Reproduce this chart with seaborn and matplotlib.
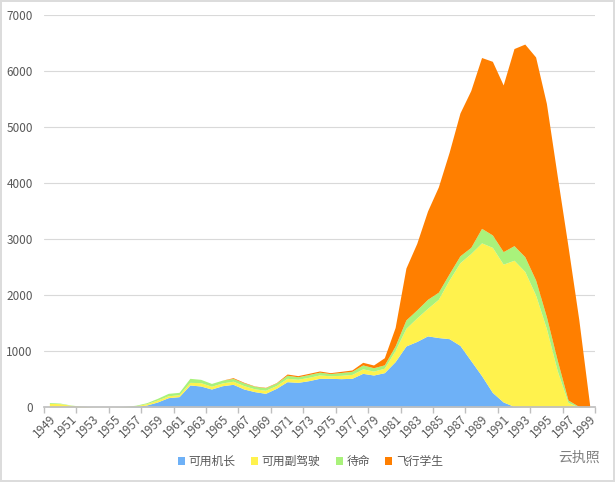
import pandas as pd
import matplotlib.pyplot as plt
import seaborn as sns
from matplotlib.patches import Patch
from matplotlib.ticker import MultipleLocator, FixedLocator

# yearly pilot counts, 1949-1999
years = list(range(1949, 2000))

captain = [5, 5, 5, 0, 0, 0, 0, 2, 10, 35,
           90, 167, 185, 393, 375, 321, 380, 405, 321, 274,
           244, 333, 452, 440, 470, 512, 512, 506, 512, 601,
           571, 613, 810, 1090, 1170, 1270, 1240, 1220, 1100, 830,
           560, 260, 90, 10, 0, 0, 0, 0, 0, 0,
           0]
copilot = [60, 55, 25, 10, 3, 2, 2, 5, 12, 25,
           35, 33, 35, 47, 60, 50, 50, 55, 60, 50,
           55, 50, 60, 55, 60, 60, 45, 60, 70, 80,
           70, 80, 200, 315, 420, 492, 683, 1048, 1477, 1910,
           2370, 2590, 2460, 2610, 2420, 2000, 1400, 650, 80, 0,
           0]
standby = [15, 10, 5, 3, 0, 0, 0, 3, 10, 17,
           30, 44, 42, 72, 59, 50, 50, 50, 50, 45,
           45, 45, 55, 45, 50, 50, 40, 50, 55, 70,
           60, 60, 80, 150, 143, 161, 127, 112, 123, 110,
           260, 222, 224, 261, 264, 268, 213, 189, 45, 10,
           0]
student = [0, 0, 0, 0, 0, 0, 0, 0, 0, 0,
           0, 0, 0, 0, 0, 0, 0, 14, 10, 6,
           7, 7, 22, 20, 21, 21, 16, 21, 24, 47,
           49, 127, 330, 926, 1188, 1577, 1880, 2170, 2550, 2800,
           3050, 3100, 2976, 3519, 3796, 3982, 3807, 3291, 2745, 1550,
           40]

series = ['可用机长', '可用副驾驶', '待命', '飞行学生']
colors = ['#6eb1f7', '#fff24d', '#a9f27b', '#ff7f00']

df = pd.concat([
    pd.DataFrame({'year': years, 'count': vals, 'type': name})
    for name, vals in zip(series, [captain, copilot, standby, student])
])

sns.set_theme(style='white')
plt.rcParams['font.family'] = ['Noto Sans CJK SC', 'DejaVu Sans']

fig = plt.figure(figsize=(6.15, 4.82), dpi=100)
ax = fig.add_axes([0.0715, 0.1556, 0.896, 0.8134])

# seaborn stacks the last hue level at the bottom
sns.histplot(data=df, x='year', weights='count', hue='type',
             hue_order=series[::-1], palette=colors[::-1],
             multiple='stack', element='poly', discrete=True,
             alpha=1, linewidth=0, legend=False, ax=ax)

ax.set_xlim(1948.5, 1999.5)
ax.set_ylim(0, 7000)
ax.yaxis.set_major_locator(MultipleLocator(1000))
ax.set_xticks(years[::2])
ax.set_xticklabels([str(y) for y in years[::2]], rotation=45, ha='right',
                   rotation_mode='anchor', fontsize=8.5, color='#595959')
ax.xaxis.set_minor_locator(FixedLocator([1948.5 + 3 * k for k in range(18)]))
ax.tick_params(axis='x', which='major', length=0, pad=4)
ax.tick_params(axis='x', which='minor', bottom=True, length=4, color='#bfbfbf')
ax.tick_params(axis='y', labelsize=8.5, labelcolor='#595959', length=0, pad=8)
ax.set_xlabel('')
ax.set_ylabel('')

ax.grid(axis='y', color='#d9d9d9', linewidth=0.8)
ax.set_axisbelow(True)
for s in ['left', 'right', 'top']:
    ax.spines[s].set_visible(False)
ax.spines['bottom'].set_color('#bfbfbf')

handles = [Patch(facecolor=c, edgecolor='none') for c in colors]
fig.legend(handles, series, loc='center', bbox_to_anchor=(0.505, 0.042),
           ncol=4, frameon=False, fontsize=8.5, handlelength=0.6,
           handleheight=0.6, handletextpad=0.3, columnspacing=1.3,
           labelcolor='#595959')

fig.text(0.975, 0.05, '云执照', ha='right', va='center', fontsize=10,
         color='#7f7f7f')

fig.patch.set_edgecolor('#dcdcdc')
fig.patch.set_linewidth(1.5)

plt.savefig('out.png', dpi=100)
